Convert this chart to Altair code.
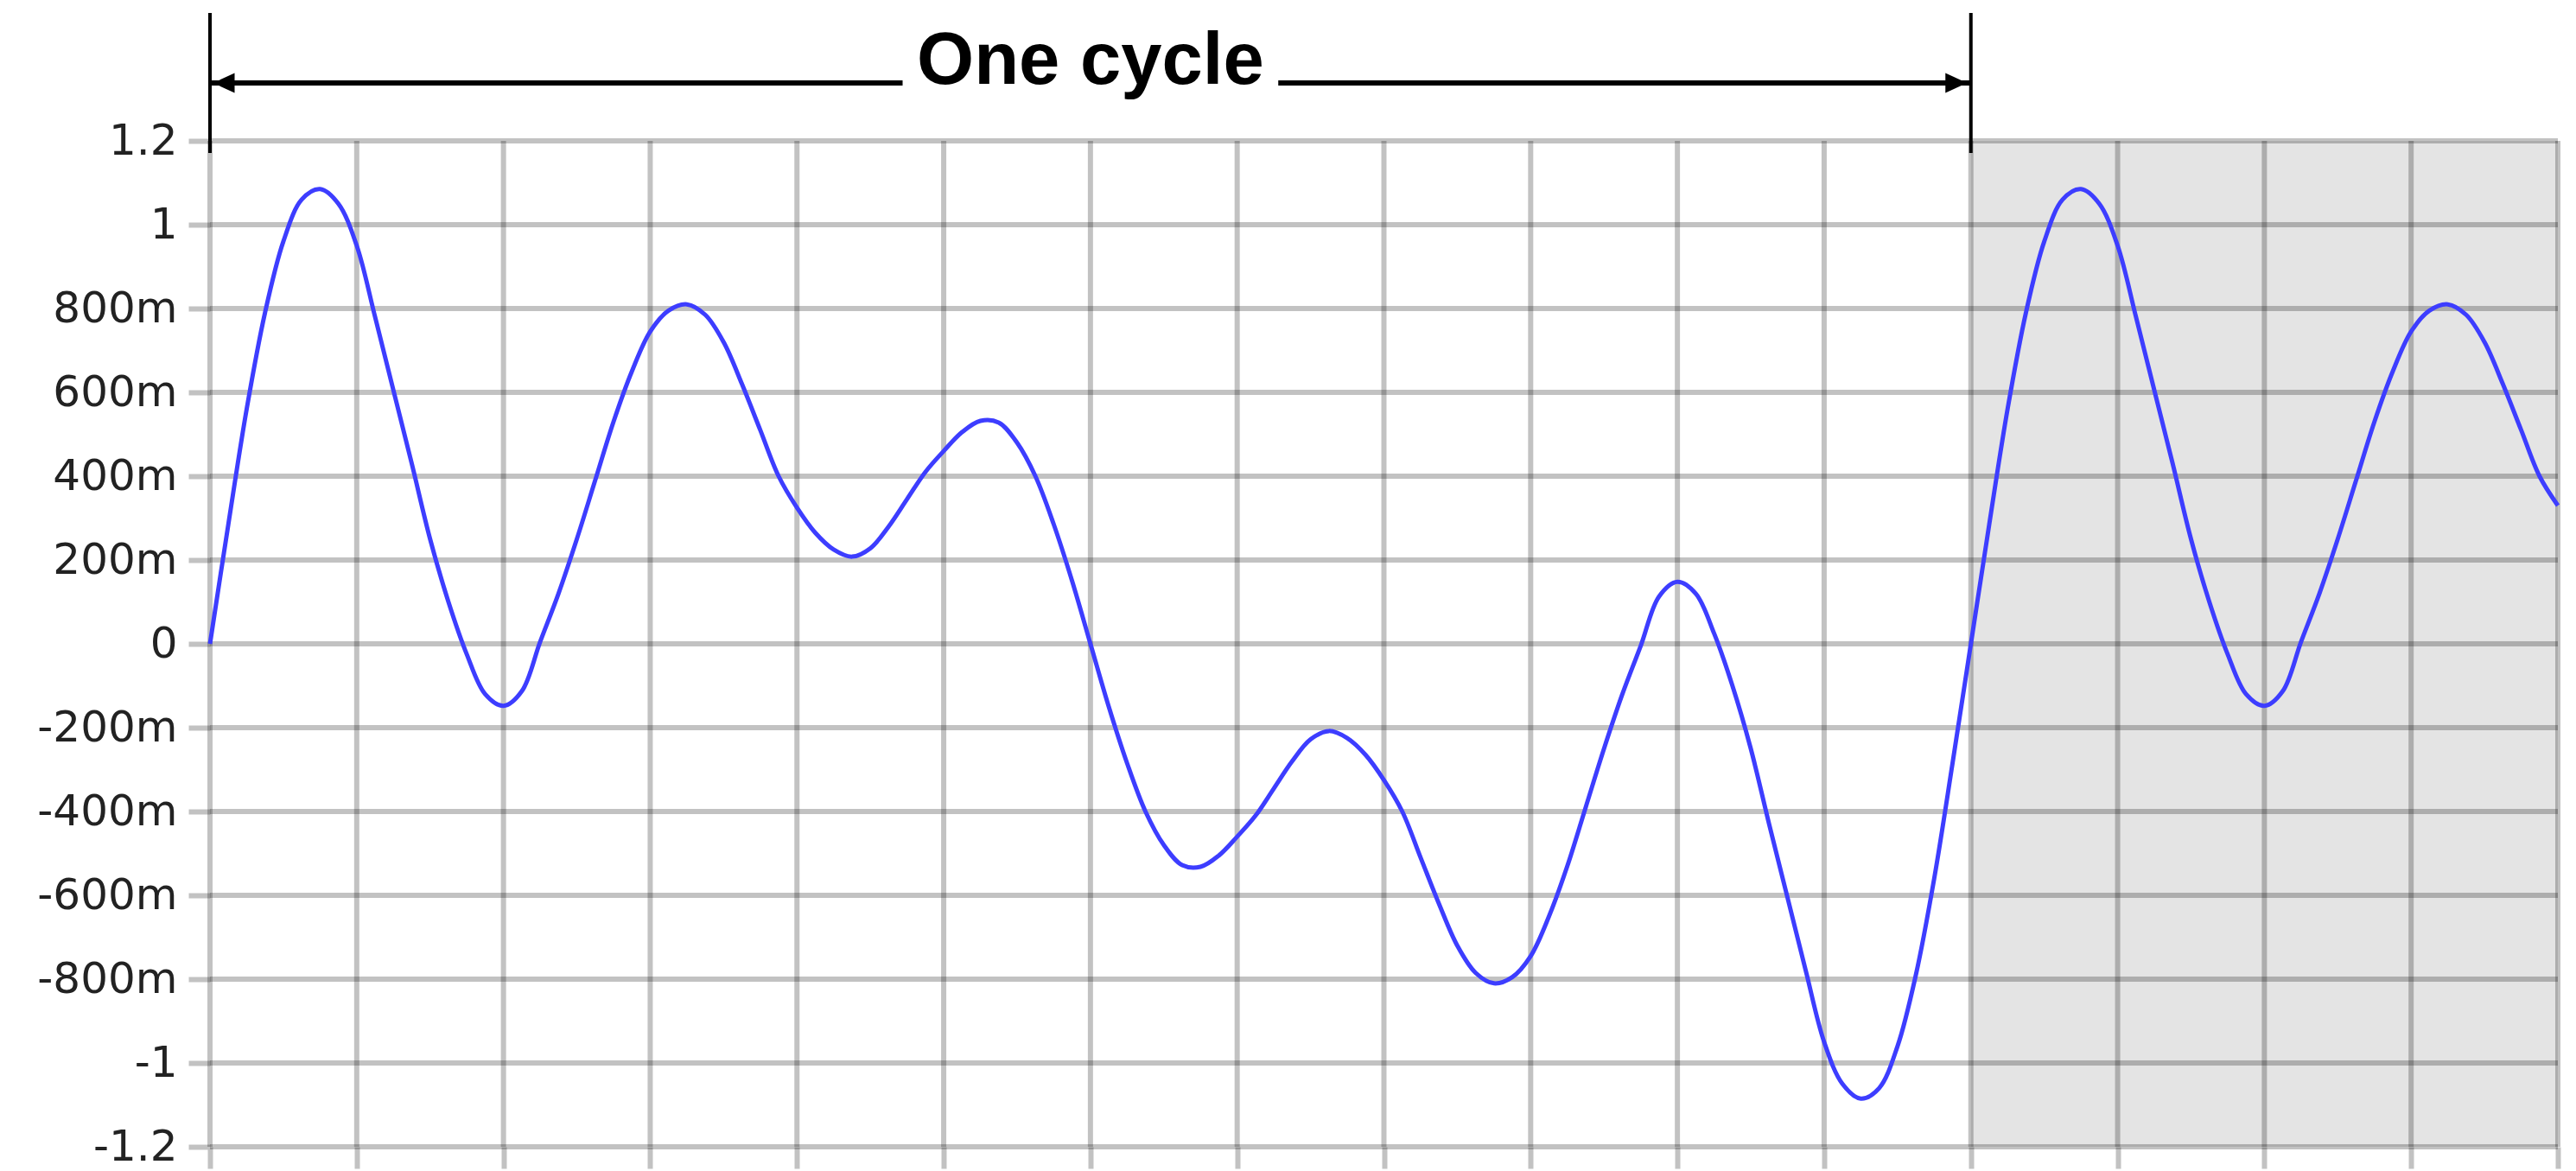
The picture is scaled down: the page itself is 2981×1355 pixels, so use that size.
import altair as alt
import pandas as pd

# ---- waveform values (x in grid divisions, y in volts) ----
# first half of the cycle
half1_x = [0.0, 0.125, 0.25, 0.375, 0.5, 0.625, 0.75, 0.875, 1.0, 1.125,
           1.25, 1.375, 1.5, 1.625, 1.75, 1.875, 2.0, 2.125, 2.25, 2.375,
           2.5, 2.625, 2.75, 2.875, 3.0, 3.125, 3.25, 3.375, 3.5, 3.625,
           3.75, 3.875, 4.0, 4.125, 4.25, 4.375, 4.5, 4.625, 4.75, 4.875,
           5.0, 5.125, 5.25, 5.375, 5.5, 5.625, 5.75, 5.875, 6.0]
half1_y = [0.0, 0.285, 0.56, 0.79, 0.96, 1.06, 1.085, 1.05, 0.95, 0.78,
           0.605, 0.43, 0.25, 0.10, -0.025, -0.12, -0.148, -0.113, 0.005, 0.12,
           0.25, 0.39, 0.53, 0.65, 0.745, 0.795, 0.81, 0.785, 0.72, 0.62,
           0.51, 0.40, 0.325, 0.265, 0.225, 0.208, 0.228, 0.28, 0.345, 0.41,
           0.46, 0.505, 0.532, 0.528, 0.48, 0.40, 0.285, 0.15, 0.0]

# second half of the cycle
half2_x = [6.125, 6.25, 6.375, 6.5, 6.625, 6.75, 6.875, 7.0, 7.125, 7.25,
           7.375, 7.5, 7.625, 7.75, 7.875, 8.0, 8.125, 8.25, 8.375, 8.5,
           8.625, 8.75, 8.875, 9.0, 9.125, 9.25, 9.375, 9.5, 9.625, 9.75,
           9.875, 10.0, 10.125, 10.25, 10.375, 10.5, 10.625, 10.75, 10.875, 11.0,
           11.125, 11.25, 11.375, 11.5, 11.625, 11.75, 11.875, 12.0]
half2_y = [-0.15, -0.285, -0.40, -0.48, -0.528, -0.532, -0.505, -0.46, -0.41, -0.345,
           -0.28, -0.228, -0.208, -0.225, -0.265, -0.325, -0.40, -0.51, -0.62, -0.72,
           -0.785, -0.81, -0.795, -0.745, -0.65, -0.53, -0.39, -0.25, -0.12, -0.005,
           0.113, 0.148, 0.12, 0.025, -0.10, -0.25, -0.43, -0.605, -0.78, -0.95,
           -1.05, -1.085, -1.06, -0.96, -0.79, -0.56, -0.285, 0.0]

# continuation into the shaded region
ext_x = [12.125, 12.25, 12.375, 12.5, 12.625, 12.75, 12.875, 13.0, 13.125, 13.25,
         13.375, 13.5, 13.625, 13.75, 13.875, 14.0, 14.125, 14.25, 14.375, 14.5,
         14.625, 14.75, 14.875, 15.0, 15.125, 15.25, 15.375, 15.5, 15.625, 15.75,
         15.875, 16.0]
ext_y = [0.285, 0.56, 0.79, 0.96, 1.06, 1.085, 1.05, 0.95, 0.78, 0.605,
         0.43, 0.25, 0.10, -0.025, -0.12, -0.148, -0.113, 0.005, 0.12, 0.25,
         0.39, 0.53, 0.65, 0.745, 0.795, 0.81, 0.785, 0.72, 0.62, 0.51,
         0.40, 0.33]

# ---- axes ----
y_tick_values = [-1.2, -1.0, -0.8, -0.6, -0.4, -0.2, 0.0, 0.2, 0.4, 0.6, 0.8, 1.0, 1.2]
y_tick_labels = ["-1.2", "-1", "-800m", "-600m", "-400m", "-200m", "0",
                 "200m", "400m", "600m", "800m", "1", "1.2"]
x_grid_values = [0, 1, 2, 3, 4, 5, 6, 7, 8, 9, 10, 11, 12, 13, 14, 15, 16]

# ---- annotation ----
cycle_bounds = [0, 12]
shade_range = [12, 16]
title_text = "One cycle"
title_x = 6
arrow_left_segment = [0, 4.72]
arrow_right_segment = [7.28, 12]

# ---- tables ----
line_df = pd.DataFrame({"x": half1_x + half2_x + ext_x,
                        "y": half1_y + half2_y + ext_y})
hgrid_df = pd.DataFrame({"y": y_tick_values})
vgrid_df = pd.DataFrame({"x": x_grid_values})
shade_df = pd.DataFrame({"x": [shade_range[0]], "x2": [shade_range[1]],
                         "y": [y_tick_values[0]], "y2": [y_tick_values[-1]]})
bracket_df = pd.DataFrame({"x": cycle_bounds})
arrow_df = pd.DataFrame({"x": [arrow_left_segment[0], arrow_right_segment[0]],
                         "x2": [arrow_left_segment[1], arrow_right_segment[1]]})
head_left_df = pd.DataFrame({"x": [cycle_bounds[0]]})
head_right_df = pd.DataFrame({"x": [cycle_bounds[1]]})
text_df = pd.DataFrame({"x": [title_x], "label": [title_text]})

W, H = 2717, 1164
TICK = "#c2c2c2"

label_array = "[" + ",".join("'%s'" % s for s in y_tick_labels) + "]"
label_expr = label_array + "[round(datum.value*5)+6]"

x_scale = alt.Scale(domain=[0, 16], nice=False, zero=False)
y_scale = alt.Scale(domain=[-1.2, 1.2], nice=False, zero=False)

x_axis = alt.Axis(values=x_grid_values, labels=False, grid=False, domain=False,
                  ticks=True, tickSize=25, tickWidth=6, tickColor=TICK, title=None)
y_axis = alt.Axis(values=y_tick_values, labelExpr=label_expr, grid=False, domain=False,
                  ticks=True, tickSize=25, tickWidth=6, tickColor=TICK, title=None,
                  labelFont="DejaVu Sans", labelFontSize=50, labelColor="#222222",
                  labelPadding=13, labelFlush=False, labelOverlap=False,
                  labelBaseline="middle")

X = alt.X("x:Q", scale=x_scale, axis=x_axis)
Y = alt.Y("y:Q", scale=y_scale, axis=y_axis)

shade = alt.Chart(shade_df).mark_rect(color="#e4e4e4").encode(
    x=X, x2="x2:Q", y=Y, y2="y2:Q")

hgrid = alt.Chart(hgrid_df).mark_rule(color="#000000", opacity=0.24, strokeWidth=6).encode(y=Y)
vgrid = alt.Chart(vgrid_df).mark_rule(color="#000000", opacity=0.24, strokeWidth=6).encode(x=X)

wave = alt.Chart(line_df).mark_line(color="#3d3dff", strokeWidth=5,
                                     interpolate="catmull-rom").encode(x=X, y=Y)

brackets = alt.Chart(bracket_df).mark_rule(color="black", strokeWidth=4).encode(
    x=X, y=alt.value(-148), y2=alt.value(14))

arrows = alt.Chart(arrow_df).mark_rule(color="black", strokeWidth=6).encode(
    x=X, x2="x2:Q", y=alt.value(-67))

head_left = alt.Chart(head_left_df).mark_point(
    shape="M-1,0L1,-0.92L1,0.92Z", size=625, filled=True, color="black",
    opacity=1, xOffset=16).encode(x=X, y=alt.value(-67))
head_right = alt.Chart(head_right_df).mark_point(
    shape="M1,0L-1,-0.92L-1,0.92Z", size=625, filled=True, color="black",
    opacity=1, xOffset=-17).encode(x=X, y=alt.value(-67))

title = alt.Chart(text_df).mark_text(
    font="Liberation Sans", fontSize=85, fontWeight="bold", color="black",
    align="center", baseline="alphabetic").encode(
    x=X, y=alt.value(-66), text="label:N")

chart = alt.layer(shade, hgrid, vgrid, wave, brackets, arrows, head_left,
                  head_right, title).properties(
    width=W, height=H,
    autosize=alt.AutoSizeParams(type="none"),
    padding={"left": 235, "top": 155, "right": 13, "bottom": 30},
    background="white",
).configure_view(stroke=None)

chart.save("out.html", embed_options={"renderer": "svg", "actions": False})
